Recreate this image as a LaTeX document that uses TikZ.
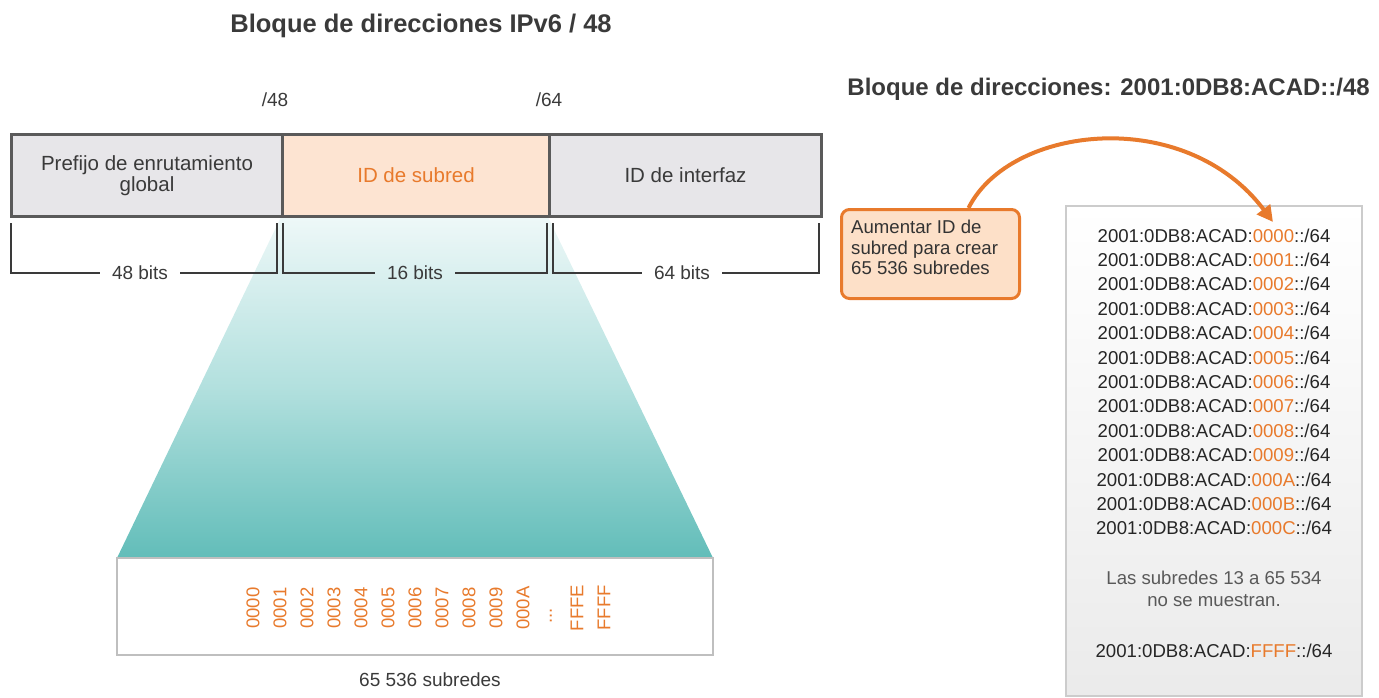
\documentclass[tikz,border=0pt]{standalone}
\usepackage{fontspec}
\setmainfont{Liberation Sans}
\usetikzlibrary{arrows.meta}
\definecolor{txt}{HTML}{3A3A3A}
\definecolor{ora}{HTML}{E87A2C}
\definecolor{cellgray}{HTML}{E7E6E9}
\definecolor{peach}{HTML}{FDE4D2}
\definecolor{callfill}{HTML}{FDE0C8}
\definecolor{barline}{HTML}{5A5A5A}
\definecolor{tealtop}{HTML}{EEF8F8}
\definecolor{tealmid}{HTML}{B2E0DE}
\definecolor{tealbot}{HTML}{62BDB9}
\newcommand\fsz[1]{\fontsize{#1}{#1}\selectfont}
\begin{document}
\begin{tikzpicture}[x=1pt,y=-1pt,
  every node/.style={text=txt, inner sep=0pt, font=\fsz{19}},
  ttl/.style={font=\bfseries\fsz{25.5}, text=txt},
  brk/.style={draw=txt, line width=1.4pt},
  hexnum/.style={rotate=90, text=ora, font=\fsz{18.5}},
  addr/.style={font=\fsz{18.6}, text=black!85},
]
\useasboundingbox (0,0) rectangle (1379,698);

% titles
\node[ttl, anchor=base] (t1) at (421,33) {Bloque de direcciones IPv6 / 48};
\node[ttl, anchor=base east, font=\bfseries\fsz{24}] (t2) at (1370,96) {Bloque de direcciones: 2001:0DB8:ACAD::/48};
\node[anchor=base] (l48) at (275,107) {/48};
\node[anchor=base] (l64) at (549,107) {/64};

% trapezoid
\shade[top color=tealtop, bottom color=tealbot, middle color=tealmid]
  (281,217) -- (548,217) -- (713,558) -- (117,558) -- cycle;
\draw[draw=black!25, line width=1.2pt, fill=white] (117,558) rectangle (713,655);

% main bar
\node[draw=barline, line width=3pt, fill=cellgray, minimum width=271pt, minimum height=82pt, anchor=north west, align=center, font=\fsz{20.5}] (c1) at (10,133) {Prefijo de enrutamiento\\[1pt]global};
\node[draw=barline, line width=3pt, fill=peach, minimum width=267pt, minimum height=82pt, anchor=north west, text=ora, font=\fsz{20.5}] (c2) at (281,133) {ID de subred};
\node[draw=barline, line width=3pt, fill=cellgray, minimum width=272pt, minimum height=82pt, anchor=north west, font=\fsz{20.5}] (c3) at (548,133) {ID de interfaz};

% brackets
\node (b48) at (140,273) {48 bits};
\node (b16) at (415,273) {16 bits};
\node (b64) at (682,273) {64 bits};
\draw[brk] (11,223) |- ([xshift=-12pt]b48.west);
\draw[brk] (277,223) |- ([xshift=12pt]b48.east);
\draw[brk] (283,223) |- ([xshift=-12pt]b16.west);
\draw[brk] (547,223) |- ([xshift=12pt]b16.east);
\draw[brk] (553,223) |- ([xshift=-12pt]b64.west);
\draw[brk] (819,223) |- ([xshift=12pt]b64.east);

% rotated numbers
\foreach \v [count=\i from 0] in {0000,0001,0002,0003,0004,0005,0006,0007,0008,0009,000A}
  \node[hexnum] (h\i) at (253+27*\i,608) {\v};
\node[hexnum] (hdots) at (551,616) {...};
\node[hexnum] (hfe) at (577,608) {FFFE};
\node[hexnum] (hff) at (604,608) {FFFF};
\node (sub) at (430,680) {65 536 subredes};

% right panel
\shade[top color=white, bottom color=black!8] (1066,206) rectangle (1362,696);
\draw[draw=black!20, line width=1.2pt] (1066,206) rectangle (1362,696);
\foreach \v [count=\i from 0] in {0000,0001,0002,0003,0004,0005,0006,0007,0008,0009,000A,000B,000C}
  \node[addr, anchor=base] (a\i) at (1214,242+24.4*\i) {2001:0DB8:ACAD:\textcolor{ora}{\v}::/64};
\node[addr, text=black!65, align=center, anchor=base] (note) at (1214,606) {Las subredes 13 a 65 534\\[3pt]no se muestran.};
\node[addr, anchor=base] (aff) at (1214,657) {2001:0DB8:ACAD:\textcolor{ora}{FFFF}::/64};

% callout
\node[draw=ora, line width=3pt, fill=callfill, rounded corners=8pt, minimum width=178pt, minimum height=89pt, anchor=north west] (call) at (840,208) {};
\node[anchor=north west, align=left, font=\fsz{18.6}, text=black!80] (calltxt) at (851,220) {Aumentar ID de\\[2pt]subred para crear\\[2pt]65 536 subredes};

% arrow
\coordinate (tip) at (1273,222);
\draw[ora, line width=4pt, -{Triangle[length=16pt,width=16pt]}]
  ([xshift=38pt]call.north) .. controls (1010,125) and (1185,105) .. (tip);
\end{tikzpicture}
\end{document}
